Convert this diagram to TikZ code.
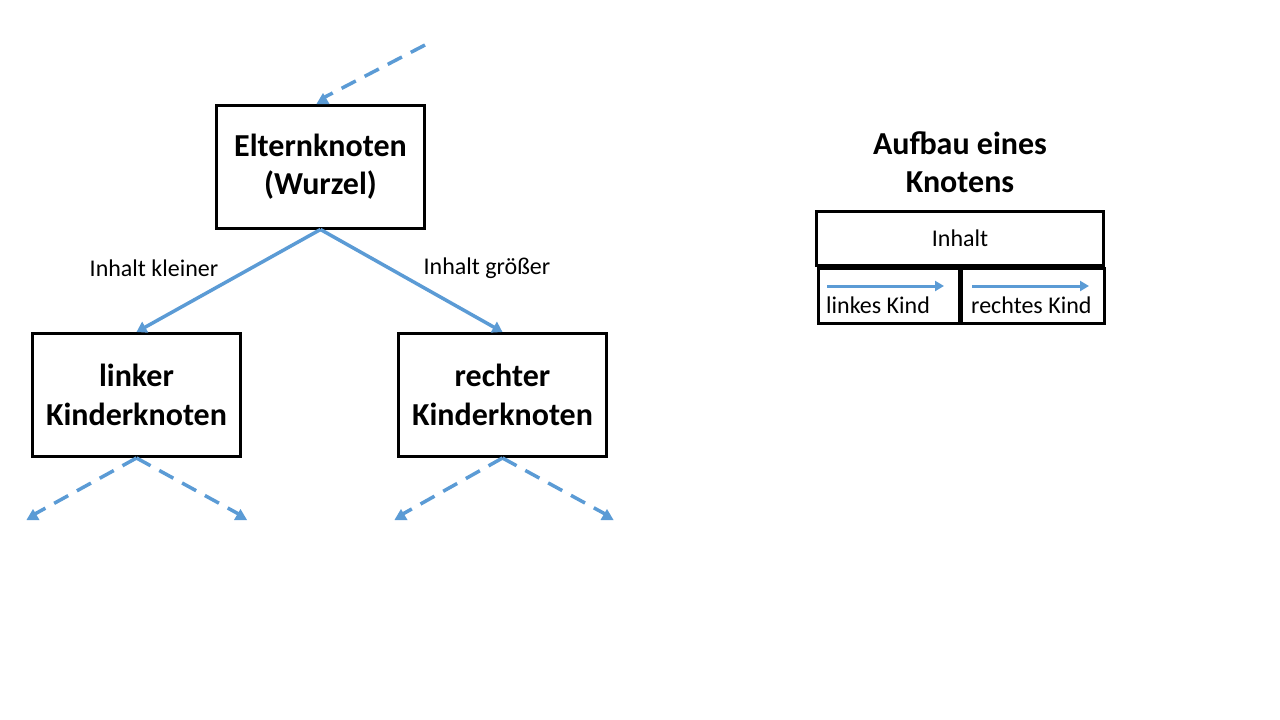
\documentclass[tikz,border=0pt]{standalone}
\usepackage{fontspec}
\setmainfont{Carlito}
\usetikzlibrary{arrows.meta}
\definecolor{arrowblue}{HTML}{5B9BD5}
\begin{document}
\begin{tikzpicture}[x=1pt,y=-1pt,
  treebox/.style={draw=black,line width=3pt,minimum width=208pt,minimum height=123pt,inner sep=0pt,align=center,font=\fontsize{32}{38.4}\selectfont\bfseries},
  cellbox/.style={draw=black,line width=3pt,inner sep=0pt,font=\fontsize{24}{28.8}\selectfont},
  conn/.style={draw=arrowblue,line width=3.5pt,-{Triangle[length=10pt,width=12pt]}},
  dconn/.style={draw=arrowblue,line width=3.5pt,dash pattern=on 16pt off 10pt},
  uptip/.pic={\fill[arrowblue] (-6.5,0) -- (6.5,0) -- (0,-11) -- cycle;},
  lbl/.style={font=\fontsize{24}{28.8}\selectfont,inner sep=0pt}]
\useasboundingbox (0,0) rectangle (1280,720);
% tree
\node[treebox] (p) at (320.5,166.5) {Elternknoten\\(Wurzel)};
\node[treebox] (l) at (136.5,395) {linker\\Kinderknoten};
\node[treebox] (r) at (502.5,395) {rechter\\Kinderknoten};
\coordinate (top) at (425,45);
\coordinate (ptip) at (323,104);
\coordinate (ll) at (33,520);
\coordinate (lr) at (240.5,520);
\coordinate (rl) at (401,520);
\coordinate (rr) at (607,520);
\draw[conn] (p.south) -- (l.north);
\draw[conn] (p.south) -- (r.north);
\draw[dconn] (top) -- ([yshift=6pt]ptip);
\draw[dconn] (l.south) -- ([yshift=5pt]ll);
\draw[dconn] (l.south) -- ([yshift=5pt]lr);
\draw[dconn] (r.south) -- ([yshift=5pt]rl);
\draw[dconn] (r.south) -- ([yshift=5pt]rr);
\pic (t0) at (ptip) {uptip};
\pic (t1) at (ll) {uptip};
\pic (t2) at (lr) {uptip};
\pic (t3) at (rl) {uptip};
\pic (t4) at (rr) {uptip};
\node[lbl] (lk) at (154,268) {Inhalt kleiner};
\node[lbl] (lg) at (487,268) {Inhalt größer};
% structure
\node[font=\fontsize{32}{38.4}\selectfont\bfseries,align=center] (title) at (960,162.5) {Aufbau eines\\Knotens};
\node[cellbox,minimum width=287pt,minimum height=54pt] (inh) at (960,238.5) {Inhalt};
\node[cellbox,minimum width=141pt,minimum height=55pt] (lk2) at (889,296) {};
\node[cellbox,minimum width=143pt,minimum height=55pt] (rk2) at (1033,296) {};
\node[lbl,anchor=west] (lkt) at (826,305) {linkes Kind};
\node[lbl,anchor=west] (rkt) at (971,305) {rechtes Kind};
\coordinate (la1) at (827,286);
\coordinate (la2) at (944,286);
\coordinate (ra1) at (972,286);
\coordinate (ra2) at (1089,286);
\draw[draw=arrowblue,line width=3pt,-{Triangle[length=9pt,width=10pt]}] (la1) -- (la2);
\draw[draw=arrowblue,line width=3pt,-{Triangle[length=9pt,width=10pt]}] (ra1) -- (ra2);
\end{tikzpicture}
\end{document}
